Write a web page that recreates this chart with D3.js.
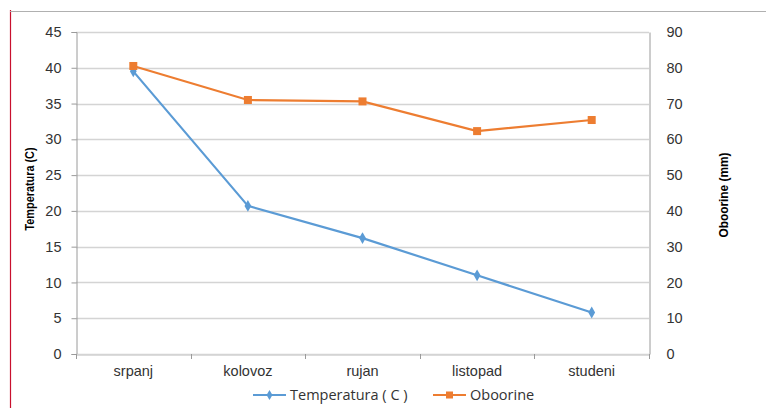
<!DOCTYPE html>
<html>
<head>
<meta charset="utf-8">
<script src="https://cdn.jsdelivr.net/npm/d3@7"></script>
<style>
  body { margin: 0; background: #fff; }
  svg { display: block; font-family: "Open Sans", "DejaVu Sans", sans-serif; }
</style>
</head>
<body>
<div id="chart"></div>
<script>
// Chart data
const months = ['srpanj', 'kolovoz', 'rujan', 'listopad', 'studeni'];
const temperatura = [39.5, 20.7, 16.2, 11.0, 5.8];
const oborine = [80.5, 71.0, 70.6, 62.3, 65.4];
const leftTicks = [0, 5, 10, 15, 20, 25, 30, 35, 40, 45];
const rightTicks = [0, 10, 20, 30, 40, 50, 60, 70, 80, 90];

const width = 766, height = 408;
const margin = { top: 32, right: 117, bottom: 54, left: 76 };

const svg = d3.select('#chart').append('svg')
    .attr('width', width)
    .attr('height', height);

// Frame lines (red left edge, gray top edge)
svg.append('line')
    .attr('x1', 10.5).attr('x2', 10.5).attr('y1', 10).attr('y2', height)
    .attr('stroke', '#c8102e').attr('stroke-width', 1.2);
svg.append('line')
    .attr('x1', 10).attr('x2', width).attr('y1', 11.5).attr('y2', 11.5)
    .attr('stroke', '#b0b0b0');

const x = d3.scaleBand()
    .domain(months)
    .range([margin.left, width - margin.right]);

const yLeft = d3.scaleLinear()
    .domain([0, 45])
    .range([height - margin.bottom, margin.top]);

const yRight = d3.scaleLinear()
    .domain([0, 90])
    .range([height - margin.bottom, margin.top]);

// Gridlines
svg.append('g')
    .selectAll('line')
    .data(leftTicks)
    .enter()
    .append('line')
    .attr('x1', margin.left)
    .attr('x2', width - margin.right)
    .attr('y1', d => Math.round(yLeft(d)) + 0.5)
    .attr('y2', d => Math.round(yLeft(d)) + 0.5)
    .attr('stroke', '#d4d4d4')
    .attr('stroke-width', 1.3);

// Left axis
const axisLeft = svg.append('g')
    .attr('transform', `translate(${margin.left + 0.5},0)`)
    .call(d3.axisLeft(yLeft).tickValues(leftTicks).tickSize(5).tickPadding(10));

// Right axis
const axisRight = svg.append('g')
    .attr('transform', `translate(${width - margin.right + 0.5},0)`)
    .call(d3.axisRight(yRight).tickValues(rightTicks).tickSize(0).tickPadding(17));

// Bottom axis with ticks between categories
const axisBottom = svg.append('g')
    .attr('transform', `translate(0,${height - margin.bottom + 0.5})`)
    .call(d3.axisBottom(x).tickSize(0).tickPadding(11));

svg.append('g')
    .selectAll('line')
    .data(d3.range(months.length + 1))
    .enter()
    .append('line')
    .attr('x1', i => Math.round(margin.left + i * x.step()) + 0.5)
    .attr('x2', i => Math.round(margin.left + i * x.step()) + 0.5)
    .attr('y1', height - margin.bottom)
    .attr('y2', height - margin.bottom + 5)
    .attr('stroke', '#9a9a9a');

[axisLeft, axisRight, axisBottom].forEach(g => {
    g.select('.domain').attr('stroke', '#9a9a9a');
    g.selectAll('.tick line').attr('stroke', '#9a9a9a');
    g.selectAll('.tick text')
        .attr('fill', '#333')
        .style('font-size', '14.5px');
});
axisBottom.select('.domain').attr('stroke', '#d4d4d4').attr('stroke-width', 1.3);

// Axis titles (condensed bold, squeezed to match)
svg.append('text')
    .attr('transform', 'translate(34,189) rotate(-90)')
    .attr('text-anchor', 'middle')
    .attr('textLength', 83)
    .attr('lengthAdjust', 'spacingAndGlyphs')
    .style('font-family', '"Liberation Sans", sans-serif')
    .style('font-weight', 'bold')
    .style('font-size', '13px')
    .attr('fill', '#000')
    .text('Temperatura (C)');

svg.append('text')
    .attr('transform', 'translate(728,195) rotate(-90)')
    .attr('text-anchor', 'middle')
    .attr('textLength', 85)
    .attr('lengthAdjust', 'spacingAndGlyphs')
    .style('font-family', '"Liberation Sans", sans-serif')
    .style('font-weight', 'bold')
    .style('font-size', '13px')
    .attr('fill', '#000')
    .text('Oboorine (mm)');

const cx = d => x(d) + x.bandwidth() / 2;

// Temperature line
const tempLine = d3.line()
    .x((d, i) => cx(months[i]))
    .y(d => yLeft(d));

svg.append('path')
    .datum(temperatura)
    .attr('d', tempLine)
    .attr('fill', 'none')
    .attr('stroke', '#5b9bd5')
    .attr('stroke-width', 2.2);

svg.append('g')
    .selectAll('path')
    .data(temperatura)
    .enter()
    .append('path')
    .attr('d', d3.symbol(d3.symbolDiamond, 40))
    .attr('transform', (d, i) => `translate(${cx(months[i])},${yLeft(d)})`)
    .attr('fill', '#5b9bd5');

// Precipitation line
const rainLine = d3.line()
    .x((d, i) => cx(months[i]))
    .y(d => yRight(d));

svg.append('path')
    .datum(oborine)
    .attr('d', rainLine)
    .attr('fill', 'none')
    .attr('stroke', '#ed7d31')
    .attr('stroke-width', 2.2);

svg.append('g')
    .selectAll('rect')
    .data(oborine)
    .enter()
    .append('rect')
    .attr('x', (d, i) => cx(months[i]) - 4)
    .attr('y', d => yRight(d) - 4)
    .attr('width', 8)
    .attr('height', 8)
    .attr('fill', '#ed7d31');

// Legend
const legend = svg.append('g').attr('transform', 'translate(0,395)');

const legendItems = [
    { label: 'Temperatura ( C )', color: '#5b9bd5', x: 253, shape: 'diamond' },
    { label: 'Oboorine', color: '#ed7d31', x: 433, shape: 'square' }
];

legendItems.forEach(item => {
    legend.append('line')
        .attr('x1', item.x).attr('x2', item.x + 33)
        .attr('y1', 0).attr('y2', 0)
        .attr('stroke', item.color)
        .attr('stroke-width', 2.2);
    if (item.shape === 'diamond') {
        legend.append('path')
            .attr('d', d3.symbol(d3.symbolDiamond, 30))
            .attr('transform', `translate(${item.x + 16.5},0)`)
            .attr('fill', item.color);
    } else {
        legend.append('rect')
            .attr('x', item.x + 13).attr('y', -3.5)
            .attr('width', 7).attr('height', 7)
            .attr('fill', item.color);
    }
    legend.append('text')
        .attr('x', item.x + 37)
        .attr('y', 5)
        .style('font-size', '14.5px')
        .attr('fill', '#333')
        .text(item.label);
});
</script>
</body>
</html>
